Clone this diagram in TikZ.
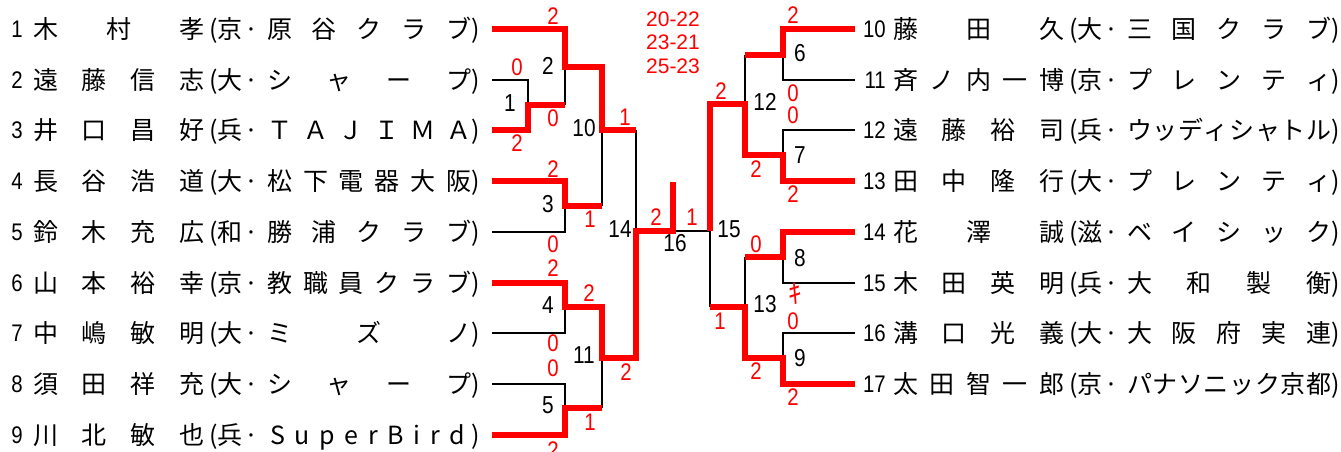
\documentclass[tikz,border=0pt]{standalone}
\usepackage{fontspec}
\setmainfont{Liberation Sans}
\newfontfamily\jp{Noto Sans CJK JP}
\newfontfamily\nar[FakeStretch=0.85]{Liberation Sans}
\newcommand{\ent}[3]{\makebox[176pt][l]{\makebox[171pt][s]{#1}}\makebox[8pt][l]{(}#2\makebox[25pt][l]{\hspace{2pt}·}\makebox[204pt][s]{#3})}
\tikzset{
  bk/.style={line width=2.5pt, black},
  rd/.style={line width=6.5pt, red, line join=miter},
  lbl/.style={font=\nar\fontsize{24.5}{24.5}\selectfont, inner sep=0pt},
  sc/.style={font=\nar\fontsize{24}{24}\selectfont, inner sep=0pt, text=red},
  gs/.style={font=\fontsize{21}{21}\selectfont, inner sep=0pt, text=red},
  entry/.style={font=\jp\fontsize{25}{25}\selectfont, inner sep=0pt, anchor=base west},
  num/.style={font=\nar\fontsize{24}{24}\selectfont, inner sep=0pt, anchor=base east},
}
\begin{document}
\begin{tikzpicture}[x=1pt,y=-1pt]
\useasboundingbox (0,0) rectangle (1341,452);
% ---------- left entries ----------
\node[num] (n1) at (23,37.5) {1};
\node[entry] (e1) at (33,38.5) {\ent{木\hfill 村\hfill 孝}{京}{原\hfill 谷\hfill ク\hfill ラ\hfill ブ}};
\node[num] (n2) at (23,88.5) {2};
\node[entry] (e2) at (33,89.5) {\ent{遠\hfill 藤\hfill 信\hfill 志}{大}{シ\hfill ャ\hfill ー\hfill プ}};
\node[num] (n3) at (23,138.5) {3};
\node[entry] (e3) at (33,139.5) {\ent{井\hfill 口\hfill 昌\hfill 好}{兵}{Ｔ\hfill Ａ\hfill Ｊ\hfill Ｉ\hfill Ｍ\hfill Ａ}};
\node[num] (n4) at (23,189.5) {4};
\node[entry] (e4) at (33,190.5) {\ent{長\hfill 谷\hfill 浩\hfill 道}{大}{松\hfill 下\hfill 電\hfill 器\hfill 大\hfill 阪}};
\node[num] (n5) at (23,240.5) {5};
\node[entry] (e5) at (33,241.5) {\ent{鈴\hfill 木\hfill 充\hfill 広}{和}{勝\hfill 浦\hfill ク\hfill ラ\hfill ブ}};
\node[num] (n6) at (23,291.5) {6};
\node[entry] (e6) at (33,292.5) {\ent{山\hfill 本\hfill 裕\hfill 幸}{京}{教\hfill 職\hfill 員\hfill ク\hfill ラ\hfill ブ}};
\node[num] (n7) at (23,341.5) {7};
\node[entry] (e7) at (33,342.5) {\ent{中\hfill 嶋\hfill 敏\hfill 明}{大}{ミ\hfill ズ\hfill ノ}};
\node[num] (n8) at (23,392.5) {8};
\node[entry] (e8) at (33,393.5) {\ent{須\hfill 田\hfill 祥\hfill 充}{大}{シ\hfill ャ\hfill ー\hfill プ}};
\node[num] (n9) at (23,443.5) {9};
\node[entry] (e9) at (33,444.5) {\ent{川\hfill 北\hfill 敏\hfill 也}{兵}{\hspace{3pt}S\hfill u\hfill p\hfill e\hfill r\hfill B\hfill i\hfill r\hfill d\hspace{6pt}}};
% ---------- right entries ----------
\node[num] (n10) at (886,37.5) {10};
\node[entry] (e10) at (893,38.5) {\ent{藤\hfill 田\hfill 久}{大}{三\hfill 国\hfill ク\hfill ラ\hfill ブ}};
\node[num] (n11) at (886,88.5) {11};
\node[entry] (e11) at (893,89.5) {\ent{斉\hfill ノ\hfill 内\hfill 一\hfill 博}{京}{プ\hfill レ\hfill ン\hfill テ\hfill ィ}};
\node[num] (n12) at (886,138.5) {12};
\node[entry] (e12) at (893,139.5) {\ent{遠\hfill 藤\hfill 裕\hfill 司}{兵}{ウ\hfill ッ\hfill デ\hfill ィ\hfill シ\hfill ャ\hfill ト\hfill ル}};
\node[num] (n13) at (886,189.5) {13};
\node[entry] (e13) at (893,190.5) {\ent{田\hfill 中\hfill 隆\hfill 行}{大}{プ\hfill レ\hfill ン\hfill テ\hfill ィ}};
\node[num] (n14) at (886,240.5) {14};
\node[entry] (e14) at (893,241.5) {\ent{花\hfill 澤\hfill 誠}{滋}{ベ\hfill イ\hfill シ\hfill ッ\hfill ク}};
\node[num] (n15) at (886,291.5) {15};
\node[entry] (e15) at (893,292.5) {\ent{木\hfill 田\hfill 英\hfill 明}{兵}{大\hfill 和\hfill 製\hfill 衡}};
\node[num] (n16) at (886,341.5) {16};
\node[entry] (e16) at (893,342.5) {\ent{溝\hfill 口\hfill 光\hfill 義}{大}{大\hfill 阪\hfill 府\hfill 実\hfill 連}};
\node[num] (n17) at (886,392.5) {17};
\node[entry] (e17) at (893,393.5) {\ent{太\hfill 田\hfill 智\hfill 一\hfill 郎}{京}{パ\hfill ナ\hfill ソ\hfill ニ\hfill ッ\hfill ク\hfill 京\hfill 都}};
% ---------- coordinates ----------
\coordinate (p1) at (492,29);  \coordinate (p2) at (492,80);
\coordinate (p3) at (492,130); \coordinate (p4) at (492,181);
\coordinate (p5) at (492,232); \coordinate (p6) at (492,283);
\coordinate (p7) at (492,333); \coordinate (p8) at (492,384);
\coordinate (p9) at (492,435);
\coordinate (q10) at (855,29);  \coordinate (q11) at (855,80);
\coordinate (q12) at (855,130); \coordinate (q13) at (855,181);
\coordinate (q14) at (855,232); \coordinate (q15) at (855,283);
\coordinate (q16) at (855,333); \coordinate (q17) at (855,384);
\coordinate (m1a) at (528,80);  \coordinate (m1) at (528,105);  \coordinate (m1b) at (528,130);
\coordinate (m2a) at (565,29);  \coordinate (m2) at (565,67);   \coordinate (m2b) at (565,105);
\coordinate (m3a) at (565,181); \coordinate (m3) at (565,206);  \coordinate (m3b) at (565,232);
\coordinate (m10a) at (602,67); \coordinate (m10) at (602,130); \coordinate (m10b) at (602,206);
\coordinate (m4a) at (565,283); \coordinate (m4) at (565,307);  \coordinate (m4b) at (565,333);
\coordinate (m5a) at (565,384); \coordinate (m5) at (565,408);  \coordinate (m5b) at (565,435);
\coordinate (m11a) at (602,307); \coordinate (m11) at (602,358); \coordinate (m11b) at (602,408);
\coordinate (m14a) at (636,130); \coordinate (m14) at (636,231); \coordinate (m14b) at (636,358);
\coordinate (m16) at (673,231); \coordinate (champ) at (673,182);
\coordinate (m6a) at (783,29);  \coordinate (m6) at (783,55);   \coordinate (m6b) at (783,80);
\coordinate (m7a) at (783,130); \coordinate (m7) at (783,155);  \coordinate (m7b) at (783,181);
\coordinate (m12a) at (745,55); \coordinate (m12) at (745,104); \coordinate (m12b) at (745,155);
\coordinate (m8a) at (783,232); \coordinate (m8) at (783,257);  \coordinate (m8b) at (783,283);
\coordinate (m9a) at (783,333); \coordinate (m9) at (783,358);  \coordinate (m9b) at (783,384);
\coordinate (m13a) at (745,257); \coordinate (m13) at (745,307); \coordinate (m13b) at (745,358);
\coordinate (m15a) at (710,104); \coordinate (m15) at (710,231); \coordinate (m15b) at (710,307);
% ---------- black (losing) lines ----------
\draw[bk] (p2) -- (m1a) -- (m1);
\draw[bk] (m2) -- (m2b);
\draw[bk] (p5) -- (m3b) -- (m3);
\draw[bk] (m10) -- (m10b);
\draw[bk] (p7) -- (m4b) -- (m4);
\draw[bk] (p8) -- (m5a) -- (m5);
\draw[bk] (m11) -- (m11b);
\draw[bk] (m14a) -- (m14);
\draw[bk] (m16) -- (m15);
\draw[bk] (m15) -- (m15b);
\draw[bk] (q11) -- (m6b) -- (m6);
\draw[bk] (q12) -- (m7a) -- (m7);
\draw[bk] (m12a) -- (m12);
\draw[bk] (q15) -- (m8b) -- (m8);
\draw[bk] (q16) -- (m9a) -- (m9);
\draw[bk] (m13a) -- (m13);
% ---------- red (winning) lines ----------
\draw[rd] (p1) -- (m2a) -- (m2) -- (m10a) -- (m10) -- (m14a);
\draw[rd] (p3) -- (m1b) -- (m1) -- (m2b);
\draw[rd] (p4) -- (m3a) -- (m3) -- (m10b);
\draw[rd] (p6) -- (m4a) -- (m4) -- (m11a) -- (m11) -- (m14b) -- (m14) -- (m16) -- (champ);
\draw[rd] (p9) -- (m5b) -- (m5) -- (m11b);
\draw[rd] (q10) -- (m6a) -- (m6) -- (m12a);
\draw[rd] (q13) -- (m7b) -- (m7) -- (m12b) -- (m12) -- (m15a) -- (m15);
\draw[rd] (q14) -- (m8a) -- (m8) -- (m13a);
\draw[rd] (q17) -- (m9b) -- (m9) -- (m13b) -- (m13) -- (m15b);
% ---------- match labels ----------
\node[lbl] (l1) at (510,103) {1};
\node[lbl] (l2) at (548,66) {2};
\node[lbl] (l3) at (548,204) {3};
\node[lbl] (l4) at (548,305) {4};
\node[lbl] (l5) at (548,405) {5};
\node[lbl] (l10) at (584,128) {10};
\node[lbl] (l11) at (584,355) {11};
\node[lbl] (l14) at (620,229) {14};
\node[lbl] (l16) at (675,243) {16};
\node[lbl] (l15) at (729,229) {15};
\node[lbl] (l12) at (765,102) {12};
\node[lbl] (l13) at (765,304) {13};
\node[lbl] (l6) at (800,53) {6};
\node[lbl] (l7) at (800,155) {7};
\node[lbl] (l8) at (800,258) {8};
\node[lbl] (l9) at (800,358) {9};
% ---------- scores ----------
\node[gs] (g1) at (673,19) {20-22};
\node[gs] (g2) at (673,42.5) {23-21};
\node[gs] (g3) at (673,66) {25-23};
\node[sc] (s1) at (553,16) {2};
\node[sc] (s2) at (517,67) {0};
\node[sc] (s3) at (517,143) {2};
\node[sc] (s4) at (553,118) {0};
\node[sc] (s5) at (625,117) {1};
\node[sc] (s6) at (553,169) {2};
\node[sc] (s7) at (590,219) {1};
\node[sc] (s8) at (553,244) {0};
\node[sc] (s9) at (553,268) {2};
\node[sc] (s10) at (589,293) {2};
\node[sc] (s11) at (553,343) {0};
\node[sc] (s12) at (553,368) {0};
\node[sc] (s13) at (626,372) {2};
\node[sc] (s14) at (590,422) {1};
\node[sc] (s15) at (553,450) {2};
\node[sc] (s16) at (656,217) {2};
\node[sc] (s17) at (692,217) {1};
\node[sc] (t1) at (721,91) {2};
\node[sc] (t2) at (793,15) {2};
\node[sc] (t3) at (793,93) {0};
\node[sc] (t4) at (793,115) {0};
\node[sc] (t5) at (756,169) {2};
\node[sc] (t6) at (793,194) {2};
\node[sc] (t7) at (756,244) {0};
\node[sc, font=\jp\fontsize{27}{27}\selectfont] (t8) at (795,294) {ｷ};
\node[sc] (t9) at (793,321) {0};
\node[sc] (t10) at (720,321) {1};
\node[sc] (t11) at (756,371) {2};
\node[sc] (t12) at (793,397) {2};
\end{tikzpicture}
\end{document}
